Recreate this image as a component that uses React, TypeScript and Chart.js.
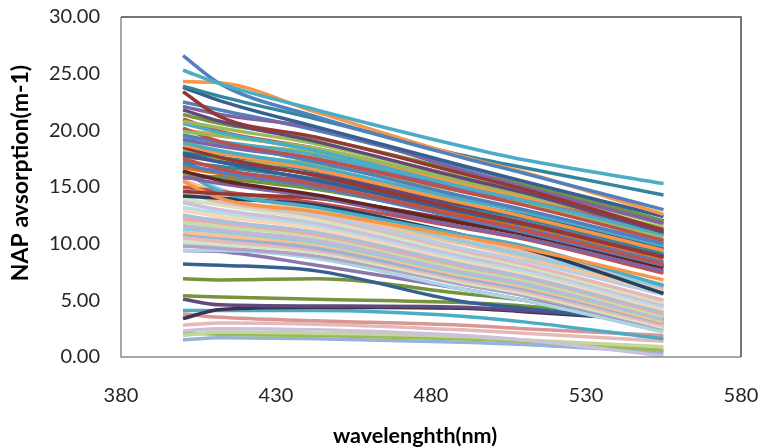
import React, { useEffect, useRef } from "react";
import { Chart, registerables } from "chart.js";

Chart.register(...registerables);

// Sampling wavelengths (nm) shared by every spectrum
const wavelengths = [400, 412, 443, 490, 510, 555];

// Axis ranges
const xRange = { min: 380, max: 580, step: 50 };
const yRange = { min: 0, max: 30, step: 5 };

const yTitle = "NAP avsorption(m-1)";
const xTitle = "wavelenghth(nm)";

// Strongly absorbing stations (NAP absorption, m-1)
const highSpectra: number[][] = [
  [25.3, 24.1, 21.8, 18.6, 17.4, 15.3],
  [26.6, 24.1, 21.2, 17.6, 16.2, 13.0],
  [24.3, 24.2, 21.6, 17.7, 16.3, 12.6],
  [23.9, 23.0, 21.0, 17.8, 16.7, 14.3],
  [23.8, 22.6, 20.3, 16.9, 15.5, 12.4],
  [23.4, 21.2, 19.4, 16.2, 14.8, 11.2],
  [22.1, 21.4, 20.2, 16.5, 15.0, 11.8],
  [21.8, 20.8, 19.0, 15.8, 14.5, 11.0],
  [21.4, 20.6, 19.3, 16.4, 15.2, 12.0],
  [20.8, 20.2, 18.8, 15.9, 14.8, 11.7],
  [20.6, 19.8, 18.2, 15.0, 13.8, 10.8],
  [19.9, 19.5, 18.4, 15.6, 14.5, 11.3],
  [20.2, 19.0, 17.5, 14.6, 13.4, 10.3],
  [19.6, 18.9, 17.2, 14.2, 13.0, 10.0],
  [19.2, 18.6, 17.4, 14.8, 13.8, 10.9],
  [18.9, 18.2, 16.8, 13.9, 12.8, 9.8],
  [18.7, 18.0, 16.5, 13.6, 12.4, 9.4],
  [18.5, 17.6, 16.0, 13.0, 11.8, 8.8],
  [18.3, 17.9, 17.0, 14.6, 13.6, 10.6],
  [18.0, 17.2, 15.6, 12.8, 11.7, 8.9],
  [17.8, 17.2, 16.1, 13.4, 12.4, 9.6],
  [17.5, 16.6, 15.2, 12.4, 11.2, 8.2],
  [17.2, 16.8, 15.7, 13.2, 12.2, 9.2],
  [17.0, 16.3, 15.0, 12.2, 11.0, 8.1],
  [16.7, 16.2, 15.1, 12.6, 11.6, 8.7],
  [16.4, 15.6, 14.3, 11.8, 10.8, 7.9],
  [16.2, 15.8, 14.8, 12.5, 11.6, 8.9],
  [15.9, 15.3, 14.1, 11.5, 10.5, 7.6],
  [15.8, 15.9, 15.0, 12.5, 11.4, 8.4],
  [14.6, 14.4, 14.0, 12.0, 11.1, 8.0],
  [15.5, 14.0, 12.8, 10.6, 9.6, 6.8],
  [16.4, 14.6, 13.2, 10.8, 9.8, 6.3],
  [14.2, 14.0, 13.4, 10.8, 9.6, 5.6],
  [15.0, 14.6, 13.6, 11.4, 10.4, 7.4],
  [17.6, 17.4, 16.6, 14.0, 12.9, 10.0],
  [19.4, 19.0, 17.8, 14.8, 13.6, 10.2],
  [20.0, 19.6, 18.2, 15.2, 14.0, 10.7],
  [22.5, 21.8, 20.0, 16.8, 15.4, 12.0],
  [19.0, 18.8, 18.0, 15.3, 14.2, 11.4],
  [16.8, 16.4, 15.4, 12.9, 11.9, 9.0],
  [21.0, 19.9, 18.4, 15.4, 14.2, 11.0],
  [18.1, 17.6, 16.4, 13.5, 12.5, 9.5],
];
const highColors = [
  "#4BACC6", "#4F81BD", "#F79646", "#31859C", "#376092", "#953735",
  "#8064A2", "#604A7B", "#77933C", "#9BBB59", "#4BACC6", "#9BBB59",
  "#C0504D", "#4F81BD", "#8064A2", "#4BACC6", "#F79646", "#953735",
  "#9BBB59", "#376092", "#604A7B", "#C0504D", "#31859C", "#4F81BD",
  "#E46C0A", "#632523", "#77933C", "#8064A2", "#4F81BD", "#953735",
  "#F79646", "#4BACC6", "#254061", "#C0504D", "#9BBB59", "#4BACC6",
  "#F79646", "#4F81BD", "#9BBB59", "#8064A2", "#C0504D", "#31859C",
];

// Moderately absorbing stations
const midSpectra: number[][] = [
  [16.5, 14.8, 13.2, 10.2, 9.0, 6.2],
  [15.6, 14.5, 12.9, 10.0, 8.8, 5.8],
  [15.0, 14.0, 12.6, 9.6, 8.5, 5.5],
  [14.5, 13.7, 12.4, 9.4, 8.2, 5.0],
  [14.0, 13.4, 12.1, 9.2, 8.0, 4.8],
  [13.6, 13.0, 11.8, 8.9, 7.8, 4.6],
  [13.2, 12.7, 11.6, 8.7, 7.6, 4.4],
  [12.9, 12.4, 11.3, 8.5, 7.4, 4.2],
  [12.5, 12.0, 11.0, 8.2, 7.1, 4.0],
  [12.2, 11.8, 10.8, 8.0, 7.0, 3.8],
  [11.9, 11.5, 10.6, 7.8, 6.8, 3.6],
  [11.6, 11.2, 10.3, 7.6, 6.6, 3.4],
  [11.3, 11.0, 10.1, 7.4, 6.4, 3.3],
  [11.0, 10.7, 9.9, 7.2, 6.2, 3.1],
  [10.8, 10.5, 9.6, 7.0, 6.0, 3.0],
  [10.5, 10.2, 9.4, 6.8, 5.8, 2.8],
  [10.2, 10.0, 9.2, 6.6, 5.6, 2.6],
  [9.8, 9.6, 8.9, 6.4, 5.4, 2.5],
  [10.0, 9.9, 9.4, 7.6, 6.6, 3.9],
  [12.0, 12.2, 11.4, 8.8, 7.8, 5.0],
  [13.8, 13.5, 12.6, 10.0, 9.0, 6.0],
  [14.8, 14.4, 13.0, 10.3, 9.3, 6.4],
  [9.4, 9.4, 8.7, 6.0, 5.0, 2.2],
  [11.4, 11.4, 10.8, 8.4, 7.5, 4.6],
  [9.4, 9.3, 8.1, 6.0, 5.0, 2.6],
  [10.9, 10.6, 9.9, 7.3, 6.2, 3.2],
];
const midColors = [
  "#93CDDD", "#FAC090", "#B9CDE5", "#E6B9B8", "#D7E4BD", "#CCC1DA",
  "#B7DEE8", "#FCD5B5", "#A7C0DE", "#E3AEAD", "#C9DBA6", "#C3B7D6",
  "#93CDDD", "#FAC090", "#95B3D7", "#E6B9B8", "#D7E4BD", "#B3A2C7",
  "#B7DEE8", "#FCD5B5", "#B9CDE5", "#E6B9B8", "#A9D6E2", "#CCC1DA",
  "#8B77AE", "#8064A2",
];

// Weakly absorbing stations
const lowSpectra: number[][] = [
  [8.2, 8.1, 7.6, 4.9, 4.3, 3.0],
  [6.9, 6.8, 6.9, 5.6, 5.0, 3.4],
  [5.4, 5.3, 5.1, 4.8, 4.5, 3.6],
  [5.1, 4.6, 4.5, 4.4, 4.1, 3.3],
  [3.4, 4.2, 4.4, 4.3, 4.0, 3.2],
  [4.1, 4.1, 4.1, 3.6, 3.1, 1.6],
  [3.8, 3.5, 3.2, 2.8, 2.5, 1.9],
  [2.8, 3.0, 2.9, 2.4, 2.1, 1.4],
  [2.3, 2.5, 2.4, 1.9, 1.5, 0.1],
  [1.9, 2.2, 2.1, 1.8, 1.5, 0.9],
  [2.1, 2.0, 1.9, 1.6, 1.4, 0.6],
  [1.5, 1.7, 1.6, 1.3, 1.1, 0.4],
];
const lowColors = [
  "#376092", "#77933C", "#77933C", "#604A7B", "#403152", "#4BACC6",
  "#D99694", "#E6B9B8", "#CCC1DA", "#C3D69B", "#9BBB59", "#95B3D7",
];

const toDatasets = (rows: number[][], colors: string[], label: string) =>
  rows.map((row, i) => ({
    label: `${label} ${i + 1}`,
    data: row.map((v, j) => ({ x: wavelengths[j], y: v })),
    borderColor: colors[i % colors.length],
    backgroundColor: colors[i % colors.length],
    borderWidth: 3.5,
    pointRadius: 0,
    fill: false,
    cubicInterpolationMode: "monotone" as const,
  }));

// Plot frame and axis titles
const framePlugin = {
  id: "frameAndTitles",
  afterDraw(chart: Chart) {
    const { ctx, chartArea } = chart;
    const { left, right, top, bottom } = chartArea;
    ctx.save();
    ctx.lineWidth = 1.5;
    ctx.strokeStyle = "#8c8c8c";
    ctx.beginPath();
    ctx.moveTo(left, top);
    ctx.lineTo(left, bottom);
    ctx.lineTo(right, bottom);
    ctx.stroke();
    ctx.strokeStyle = "#4a4a4a";
    ctx.beginPath();
    ctx.moveTo(left, top);
    ctx.lineTo(right, top);
    ctx.lineTo(right, bottom);
    ctx.stroke();

    ctx.fillStyle = "#000000";
    ctx.textAlign = "center";
    ctx.textBaseline = "middle";
    ctx.font = "bold 21.5px Lato, 'Open Sans', sans-serif";
    ctx.fillText(xTitle, 415, 436);
    ctx.font = "bold 23px Lato, 'Open Sans', sans-serif";
    ctx.translate(21, 173);
    ctx.rotate(-Math.PI / 2);
    ctx.fillText(yTitle, 0, 0);
    ctx.restore();
  },
};

export default function App() {
  const canvasRef = useRef<HTMLCanvasElement | null>(null);

  useEffect(() => {
    if (!canvasRef.current) return;
    const chart = new Chart(canvasRef.current, {
      type: "line",
      data: {
        datasets: [
          ...toDatasets(highSpectra, highColors, "High"),
          ...toDatasets(midSpectra, midColors, "Mid"),
          ...toDatasets(lowSpectra, lowColors, "Low"),
        ],
      },
      options: {
        responsive: false,
        animation: false,
        layout: { padding: { left: 0, right: 17, top: 17, bottom: 0 } },
        plugins: {
          legend: { display: false },
          tooltip: { enabled: false },
        },
        scales: {
          x: {
            type: "linear",
            min: xRange.min,
            max: xRange.max,
            grid: { display: false, drawTicks: false },
            border: { display: false },
            ticks: {
              stepSize: xRange.step,
              padding: 27,
              color: "#262626",
              font: { family: "Lato, 'Open Sans', sans-serif", size: 20 },
              maxRotation: 0,
              callback: (v: any) => String(v),
            },
            afterFit: (scale: any) => {
              scale.height = 91;
              scale.paddingLeft = 0;
              scale.paddingRight = 0;
            },
          },
          y: {
            type: "linear",
            min: yRange.min,
            max: yRange.max,
            grid: { display: false, drawTicks: false },
            border: { display: false },
            ticks: {
              stepSize: yRange.step,
              padding: 21,
              color: "#262626",
              font: { family: "Lato, 'Open Sans', sans-serif", size: 20 },
              callback: (v: any) => Number(v).toFixed(2),
            },
            afterFit: (scale: any) => {
              scale.width = 121;
              scale.paddingTop = 0;
              scale.paddingBottom = 0;
            },
          },
        },
      },
      plugins: [framePlugin],
    });
    return () => chart.destroy();
  }, []);

  return (
    <div style={{ position: "fixed", left: 0, top: 0, width: 758, height: 448, background: "#ffffff" }}>
      <canvas ref={canvasRef} width={758} height={448} style={{ display: "block" }} />
    </div>
  );
}
